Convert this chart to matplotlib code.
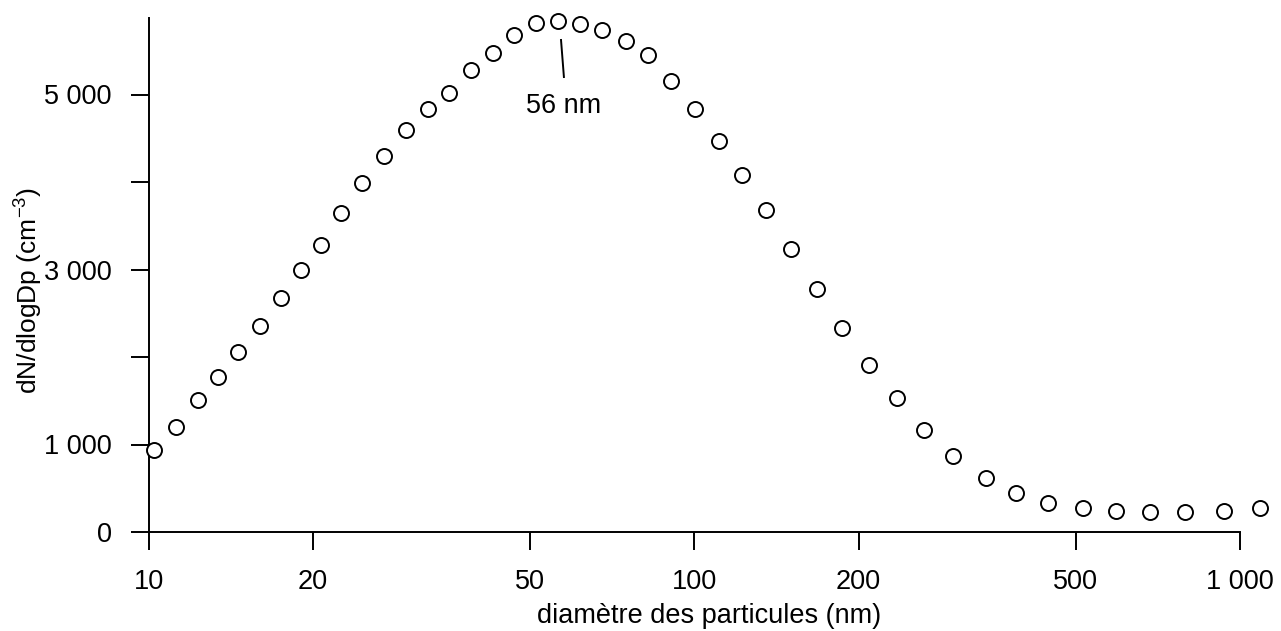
import matplotlib
matplotlib.use("Agg")
import matplotlib.pyplot as plt
from matplotlib.ticker import FixedLocator, NullLocator

plt.rcParams['font.family'] = ['Liberation Sans', 'DejaVu Sans']
plt.rcParams['mathtext.fontset'] = 'custom'
plt.rcParams['mathtext.rm'] = 'Liberation Sans'
plt.rcParams['mathtext.it'] = 'Liberation Sans'

# Data
diameter_nm = [10.25, 11.25, 12.3, 13.4, 14.6, 16.0, 17.5, 19.0, 20.7, 22.5,
               24.6, 27.0, 29.6, 32.5, 35.6, 39.0, 42.7, 46.8, 51.3, 56.3,
               61.8, 67.8, 74.9, 82.4, 90.8, 100.5, 111, 122.5, 135.5, 150.5,
               167.5, 186.5, 209, 235, 264, 298, 342, 389, 445, 515,
               592, 683, 793, 935, 1090]
dn_dlogdp = [937, 1200, 1509, 1771, 2057, 2354, 2674, 2994, 3280, 3646,
             3989, 4297, 4594, 4834, 5017, 5280, 5474, 5680, 5817, 5840,
             5806, 5737, 5611, 5451, 5154, 4834, 4469, 4080, 3680, 3234,
             2777, 2331, 1909, 1531, 1166, 869, 617, 446, 331, 274,
             240, 229, 229, 240, 274]
x_ticks = [10, 20, 50, 100, 200, 500, 1000]
x_tick_labels = ['10', '20', '50', '100', '200', '500', '1\u00a0000']
y_ticks = [0, 1000, 2000, 3000, 4000, 5000]
y_tick_labels = ['0', '1\u00a0000', '', '3\u00a0000', '', '5\u00a0000']
peak_label = '56 nm'
peak_x = 57.5

FS = 19.5
W, H = 1281, 631
fig = plt.figure(figsize=(W / 100, H / 100), dpi=100)
left, right, bottom, top = 148.5, 1240, 532, 18
ax = fig.add_axes([left / W, (H - bottom) / H, (right - left) / W, (bottom - top) / H])
ax.set_xscale('log')
ax.set_xlim(10, 1000)
ax.set_ylim(0, (bottom - top) / 87.5 * 1000)

ax.plot(diameter_nm, dn_dlogdp, linestyle='none', marker='o', markersize=10.8,
        markerfacecolor='white', markeredgecolor='black', markeredgewidth=1.4,
        clip_on=False, zorder=3)

for s in ['top', 'right']:
    ax.spines[s].set_visible(False)
ax.spines['left'].set_linewidth(1.4)
ax.spines['bottom'].set_linewidth(1.4)
ax.spines['bottom'].set_bounds(10, 1000)

ax.xaxis.set_major_locator(FixedLocator(x_ticks))
ax.xaxis.set_minor_locator(NullLocator())
ax.set_xticklabels(x_tick_labels)
ax.yaxis.set_major_locator(FixedLocator(y_ticks))
ax.set_yticklabels(y_tick_labels)
ax.tick_params(axis='both', which='major', direction='out', length=13, width=1.4,
               labelsize=FS, pad=13.5, color='black', labelcolor='black')

ax.plot([57.0, 57.7], [5623, 5200], color='black', linewidth=1.4, clip_on=False)
ax.text(peak_x, 4869, peak_label, ha='center', va='center', fontsize=FS)

fig.text(29 / W, 1 - 290 / H, r'dN/dlogDp (cm$^{-3}$)', rotation=90,
         ha='center', va='center', fontsize=19)
fig.text(709 / W, 1 - 629 / H, 'diamètre des particules (nm)',
         ha='center', va='bottom', fontsize=FS)

fig.savefig('out.png', dpi=100)
